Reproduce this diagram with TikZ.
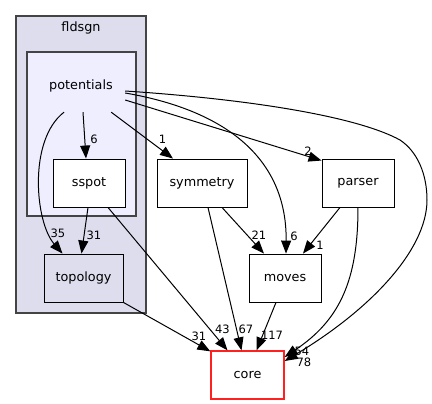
\documentclass[tikz,border=0pt]{standalone}
\usepackage{fontspec}
\setmainfont{DejaVu Sans}
\usetikzlibrary{arrows.meta}
\definecolor{clusterbg}{HTML}{DDDDEE}
\definecolor{innerbg}{HTML}{EEEEFF}
\definecolor{clusterline}{HTML}{444444}
\definecolor{corered}{HTML}{FF2020}
\begin{document}
\begin{tikzpicture}[x=1pt,y=-1pt,
  dirbox/.style={draw=black,line width=0.9pt,fill=white,minimum width=72pt,minimum height=48pt,inner sep=0pt,font=\fontsize{12.8}{15}\selectfont},
  cluster/.style={draw=clusterline,line width=1.1pt},
  dep/.style={draw=black,line width=1pt,-{Triangle[length=13pt,width=10pt]}},
  num/.style={font=\fontsize{11.5}{13}\selectfont,inner sep=0pt}]
\useasboundingbox (0,0) rectangle (432,404);
% clusters
\filldraw[cluster,fill=clusterbg] (16,16) rectangle (146,313);
\node[font=\fontsize{12.8}{15}\selectfont] (fldsgn) at (81,28) {fldsgn};
\filldraw[cluster,fill=innerbg] (27,52) rectangle (136,216);
\node[font=\fontsize{12.8}{15}\selectfont,minimum width=88pt,minimum height=52pt,inner sep=0pt] (pot) at (81,86) {potentials};
% nodes
\node[dirbox] (sspot) at (89,183) {sspot};
\node[dirbox,fill=clusterbg,minimum width=79pt] (topo) at (83.5,278) {topology};
\node[dirbox,minimum width=90pt] (sym) at (202,183) {symmetry};
\node[dirbox] (parser) at (358,183) {parser};
\node[dirbox] (moves) at (285,278) {moves};
\node[dirbox,draw=corered,line width=1.3pt,minimum width=73pt] (core) at (247.5,375) {core};
% edges
\draw[dep] ([xshift=2pt]pot.south) -- ([xshift=-3pt]sspot.north);
\node[num] at (94,139) {6};
\draw[dep] ([xshift=-14pt]pot.south east) -- ([xshift=-29pt]sym.north);
\node[num] at (162.5,139) {1};
\draw[dep] ([xshift=-17pt]pot.south) .. controls (28,140) and (35,222) .. ([xshift=-21pt]topo.north);
\node[num] at (58,233) {35};
\draw[dep] ([yshift=-14pt]pot.east) -- ([yshift=-2pt]parser.north west);
\node[num] at (308,151) {2};
\draw[dep] ([yshift=-7pt]pot.east) .. controls (235,112) and (287,165) .. ([xshift=1pt]moves.north);
\node[num] at (294,236) {6};
\draw[dep] ([yshift=-5pt]pot.east) .. controls (260,100) and (360,118) .. (400,140)
  .. controls (418,152) and (427,175) .. (427,200)
  .. controls (427,250) and (370,310) .. ([yshift=14pt]core.east);
\node[num] at (304,362) {78};
\draw[dep] ([xshift=-1pt]sspot.south) -- ([xshift=-2pt]topo.north);
\node[num] at (94,235) {31};
\draw[dep] ([xshift=19pt]sspot.south) -- ([xshift=-20pt]core.north);
\node[num] at (222.5,329) {43};
\draw[dep] ([xshift=6pt]sym.south) -- ([xshift=-6pt]core.north);
\node[num] at (246,329) {67};
\draw[dep] ([xshift=20pt]sym.south) -- ([xshift=-21pt]moves.north);
\node[num] at (259,235) {21};
\draw[dep] ([xshift=-18pt]parser.south) -- ([xshift=18pt]moves.north);
\node[num] at (320,245) {1};
\draw[dep] ([xshift=0pt]parser.south) .. controls (358,280) and (340,320) .. ([yshift=18pt]core.east);
\node[num] at (302,351) {54};
\draw[dep] ([xshift=-9pt]moves.south) -- ([xshift=9pt]core.north);
\node[num] at (272,335) {117};
\draw[dep] (topo.south east) -- ([yshift=-1pt]core.north west);
\node[num] at (199,336) {31};
\end{tikzpicture}
\end{document}
